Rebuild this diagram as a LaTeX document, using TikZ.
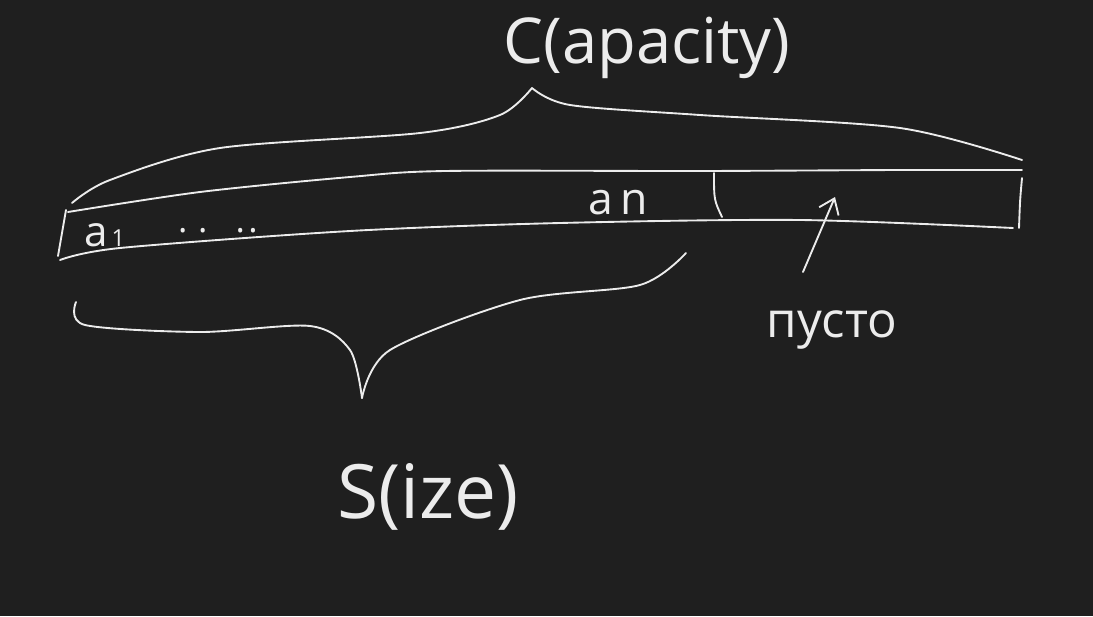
\documentclass[tikz,border=0pt]{standalone}
\usepackage{fontspec}
\setmainfont{Open Sans}
\usetikzlibrary{arrows.meta}
\definecolor{board}{RGB}{31,31,31}
\definecolor{chalk}{RGB}{236,236,236}
\tikzset{
  stroke/.style={draw=chalk, line width=1.6pt, line cap=round, line join=round},
  label/.style={text=chalk, inner sep=0pt},
}

\begin{document}
\begin{tikzpicture}[x=0.03cm, y=-0.03cm]
\fill[board] (0,0) rectangle (1093,616);
\useasboundingbox (0,0) rectangle (1093,616);
% array cells
\draw[stroke] plot[smooth] coordinates {(68,212) (200,192) (350,177) (445,171) (700,171) (900,170) (1022,170)};
\draw[stroke] plot[smooth] coordinates {(60,260) (120,248) (350,231) (560,223) (800,220) (1013,228)};
\draw[stroke] (66,210) -- (58,256);
\draw[stroke] (714,173) .. controls (714,200) .. (722,217);
\draw[stroke] (1022,178) .. controls (1020,200) .. (1019,228);
% capacity brace
\draw[stroke] plot[smooth] coordinates {(72,203) (110,180) (220,148) (420,133) (500,115) (532,88)};
\draw[stroke] plot[smooth] coordinates {(532,88) (570,105) (700,115) (900,128) (1022,160)};
% size brace
\draw[stroke] plot[smooth] coordinates {(76,302) (85,325) (200,332) (310,326) (350,350) (362,398)};
\draw[stroke] plot[smooth] coordinates {(362,398) (390,350) (520,300) (640,285) (686,253)};
% free space arrow
\draw[stroke, -{Straight Barb[length=12pt, width=18pt]}] (803,272) -- (835,197);
% texts
\node[label, font=\fontsize{54}{54}\selectfont] (cap) at (647,48) {C(apacity)};
\node[label, font=\fontsize{64}{64}\selectfont] (siz) at (428,497) {S(ize)};
\node[label, font=\fontsize{42}{42}\selectfont] (emp) at (832,330) {пусто};
\node[label, font=\fontsize{36}{36}\selectfont, anchor=base west] (a1) at (84,246) {a{\fontsize{20}{20}\selectfont\,1}};
\node[label, font=\fontsize{30}{30}\selectfont, anchor=base west] (dots) at (178,232) {.\hspace{9pt}.\hspace{24pt}.\hspace{3pt}.};
\node[label, font=\fontsize{38}{38}\selectfont, anchor=base west] (an) at (588,214) {a\,n};
\end{tikzpicture}
\end{document}
